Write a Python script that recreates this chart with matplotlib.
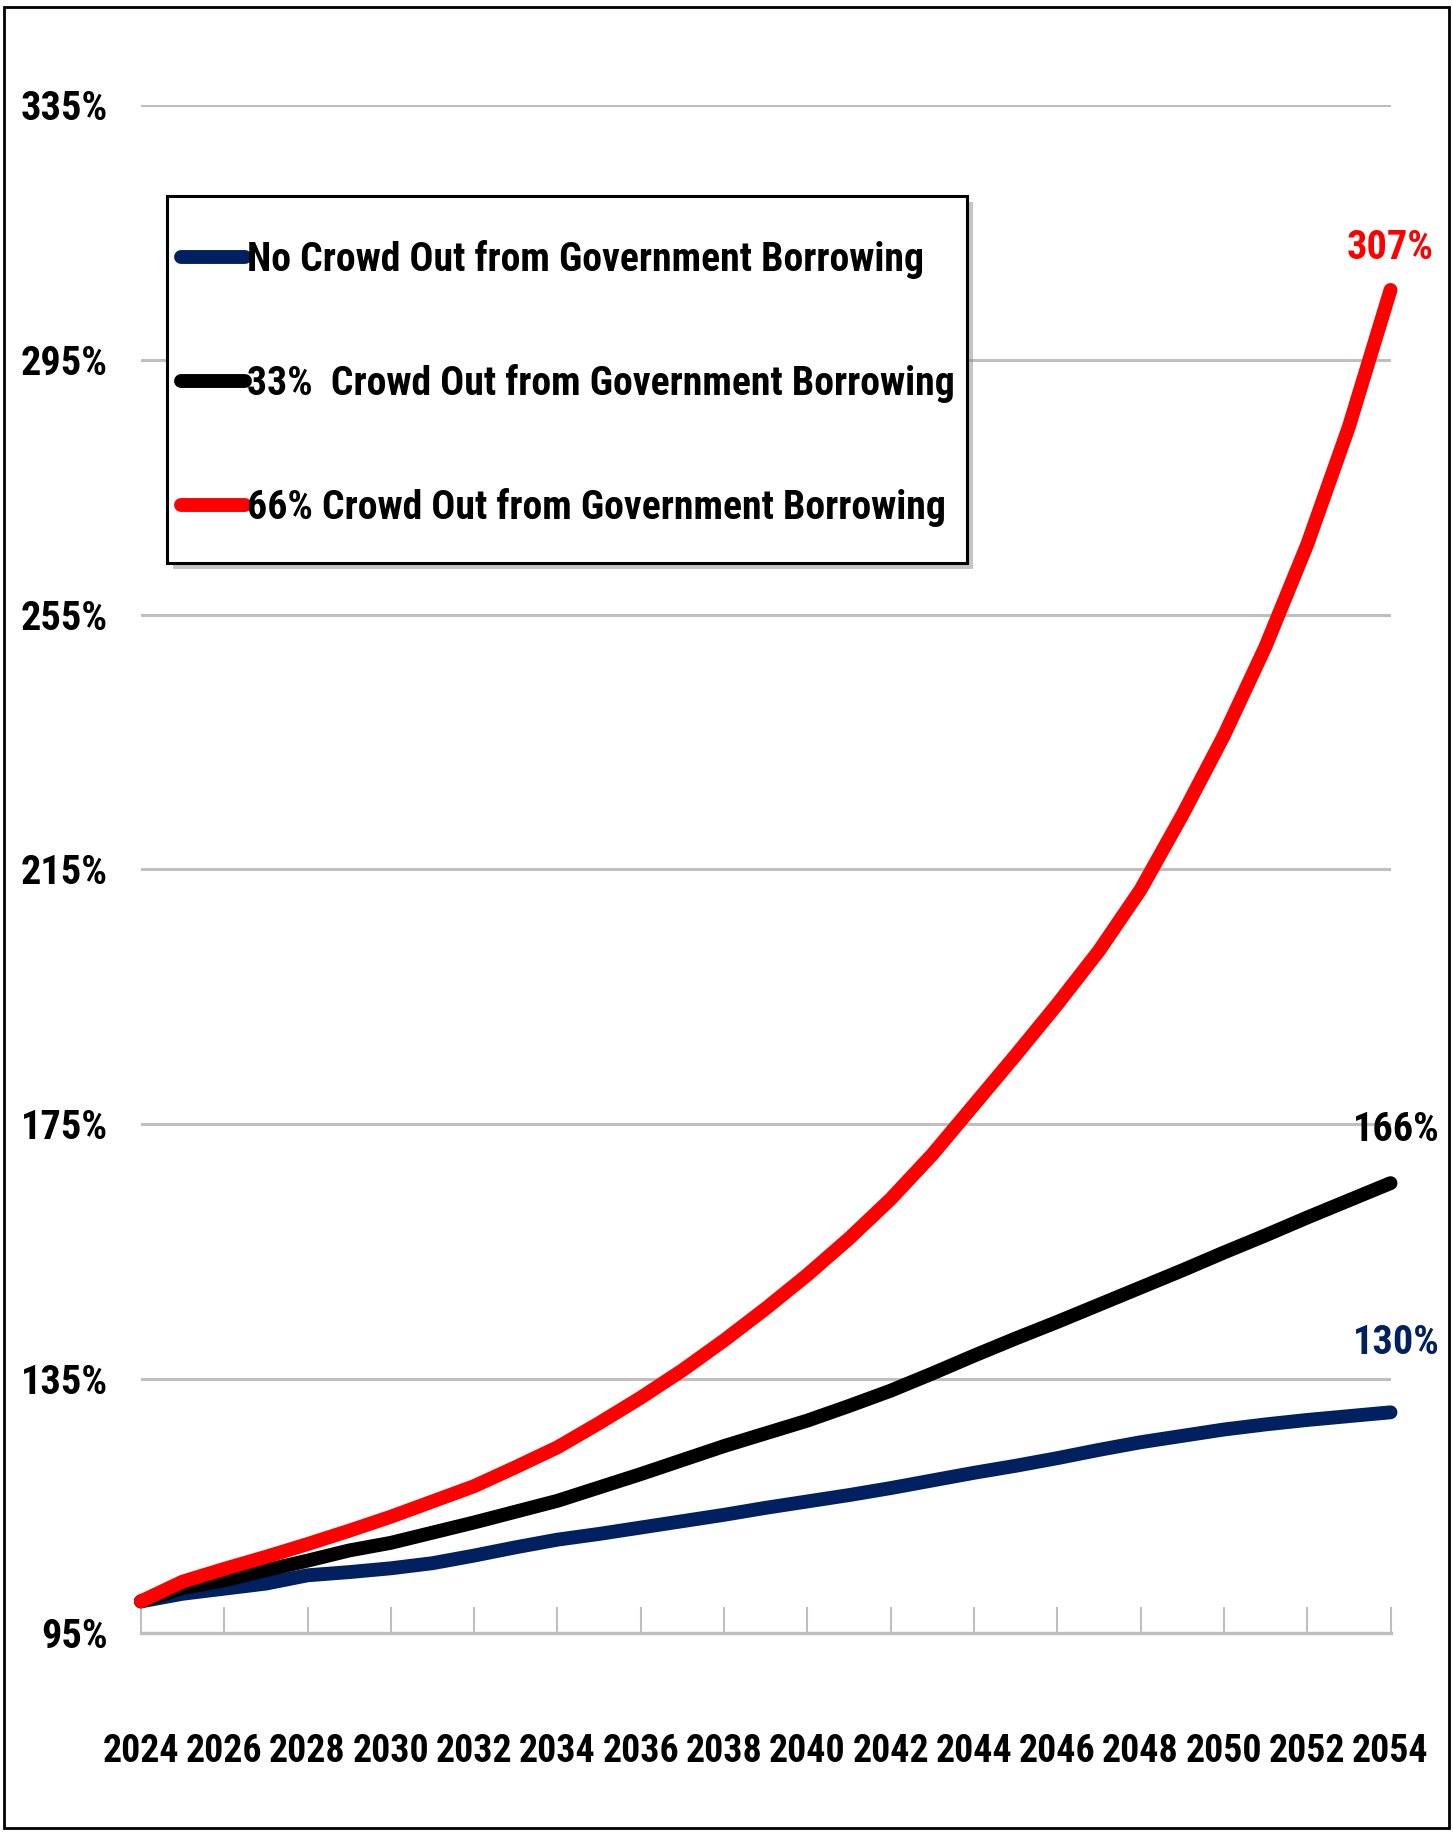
import matplotlib
matplotlib.use("Agg")
import matplotlib.pyplot as plt
import matplotlib.font_manager as fm
from matplotlib.font_manager import FontProperties
from matplotlib.textpath import TextPath
from matplotlib.patches import Rectangle

years = list(range(2024, 2055))

no_crowd = [100, 101.2, 102.0, 102.8, 104.1, 104.6, 105.2, 106.0, 107.2, 108.5,
            109.7, 110.6, 111.6, 112.6, 113.6, 114.7, 115.7, 116.7, 117.8, 119.0,
            120.2, 121.3, 122.5, 123.8, 125.0, 126.0, 127.0, 127.8, 128.5, 129.1, 129.7]
crowd_33 = [100, 102.1, 103.3, 104.9, 106.4, 108.0, 109.2, 110.8, 112.4, 114.1,
            115.8, 117.9, 120.0, 122.2, 124.4, 126.4, 128.4, 130.7, 133.1, 135.8,
            138.6, 141.3, 143.9, 146.6, 149.3, 152.0, 154.8, 157.5, 160.3, 163.0, 165.7]
crowd_66 = [100, 103.1, 105.1, 107.0, 109.0, 111.1, 113.3, 115.7, 118.1, 121.1,
            124.2, 128.0, 132.0, 136.3, 141.0, 146.0, 151.3, 157.0, 163.2, 170.2,
            178.0, 185.8, 193.8, 202.2, 211.8, 223.5, 236.0, 250.0, 266.0, 284.5, 306.0]

series_names = ["No Crowd Out from Government Borrowing",
                "33%  Crowd Out from Government Borrowing",
                "66% Crowd Out from Government Borrowing"]
series_colors = ["#002060", "#000000", "#FF0000"]
end_labels = ["130%", "166%", "307%"]

y_ticks = [95, 135, 175, 215, 255, 295, 335]
x_ticks = list(range(2024, 2055, 2))


# look for a narrow / condensed bold face, the original uses a squeezed font
def pick_font():
    names = {f.name for f in fm.fontManager.ttflist}
    for cand in ['Liberation Sans Narrow', 'DejaVu Sans Condensed', 'Roboto Condensed',
                 'Open Sans Condensed', 'Noto Sans Condensed']:
        if cand in names:
            return cand, 'normal'
    for f in fm.fontManager.ttflist:
        if f.stretch in ('condensed', 'semi-condensed', 'extra-condensed') \
                and str(f.weight) in ('700', 'bold'):
            return f.name, f.stretch
    return 'Liberation Sans', 'normal'


fam, stretch = pick_font()
plt.rcParams['font.family'] = [fam, 'DejaVu Sans']
plt.rcParams['font.stretch'] = stretch
plt.rcParams['font.weight'] = 'bold'
fp = FontProperties(family=fam, weight='bold', stretch=stretch)


def fit(s, px):
    # font size (pt) so that s is px pixels wide at dpi 100
    w = TextPath((0, 0), s, size=100, prop=fp).get_extents().width
    return px * 72.0 / w


fs_y = fit("335%", 84)
fs_x = fit("2024", 74)
fs_leg = fit(series_names[0], 674)
fs_end = fit("166%", 82)
leg_px = fs_leg * 100 / 72

fig = plt.figure(figsize=(14.53, 18.32), dpi=100)
ax = fig.add_axes([0.097, 0.1085, 0.860, 0.834])

all_series = [no_crowd, crowd_33, crowd_66]
for vals, name, col in zip(all_series, series_names, series_colors):
    ax.plot(years, vals, color=col, lw=10, label=name, solid_capstyle='round',
            solid_joinstyle='round', clip_on=False, zorder=3)

# end value labels
offsets = [(4, 50), (4, 38), (0, 30)]
for vals, txt, col, off in zip(all_series, end_labels, series_colors, offsets):
    ax.annotate(txt, xy=(years[-1], vals[-1]), xytext=off, textcoords='offset points',
                ha='center', va='center', color=col, fontsize=fs_end, fontweight='bold')

ax.set_xlim(2024, 2054)
ax.set_ylim(95, 335)
ax.set_yticks(y_ticks)
ax.set_yticklabels([f"{v}%" for v in y_ticks])
ax.set_xticks(x_ticks)
ax.set_xticklabels([str(x) for x in x_ticks])

ax.yaxis.grid(True, color='#BFBFBF', lw=2.2)
ax.set_axisbelow(True)
for s in ['left', 'right', 'top']:
    ax.spines[s].set_visible(False)
ax.spines['bottom'].set_color('#BFBFBF')
ax.spines['bottom'].set_linewidth(2.4)

ax.tick_params(axis='y', length=0, pad=24, labelsize=fs_y)
ax.tick_params(axis='x', direction='in', length=19, width=1.5, color='#BFBFBF',
               pad=72, labelsize=fs_x)

# legend box drawn by hand (taller than the legend's own padding allows)
box = (0.1149, 0.6927, 0.5506, 0.2003)
ax.add_patch(Rectangle((box[0] + 0.004, box[1] - 0.0035), box[2], box[3],
                       transform=fig.transFigure, facecolor='#7F7F7F', edgecolor='none',
                       alpha=0.45, clip_on=False, zorder=4))
ax.add_patch(Rectangle(box[:2], box[2], box[3], transform=fig.transFigure,
                       facecolor='white', edgecolor='black', lw=2.2,
                       clip_on=False, zorder=4.5))

leg = ax.legend(loc='upper left', bbox_to_anchor=(0.1246, 0.869), bbox_transform=fig.transFigure,
                fontsize=fs_leg, frameon=False, handlelength=64 / leg_px,
                handletextpad=0.05, labelspacing=(131.5 - 1.17 * leg_px) / leg_px,
                borderpad=0, borderaxespad=0)
leg.set_zorder(5)
for h in leg.get_lines():
    h.set_linewidth(10)
    h.set_solid_capstyle('round')

fig.patches.append(Rectangle((0.003, 0.002), 0.994, 0.994, transform=fig.transFigure,
                             fill=False, edgecolor='black', lw=2))

fig.savefig("out.png", dpi=100)
